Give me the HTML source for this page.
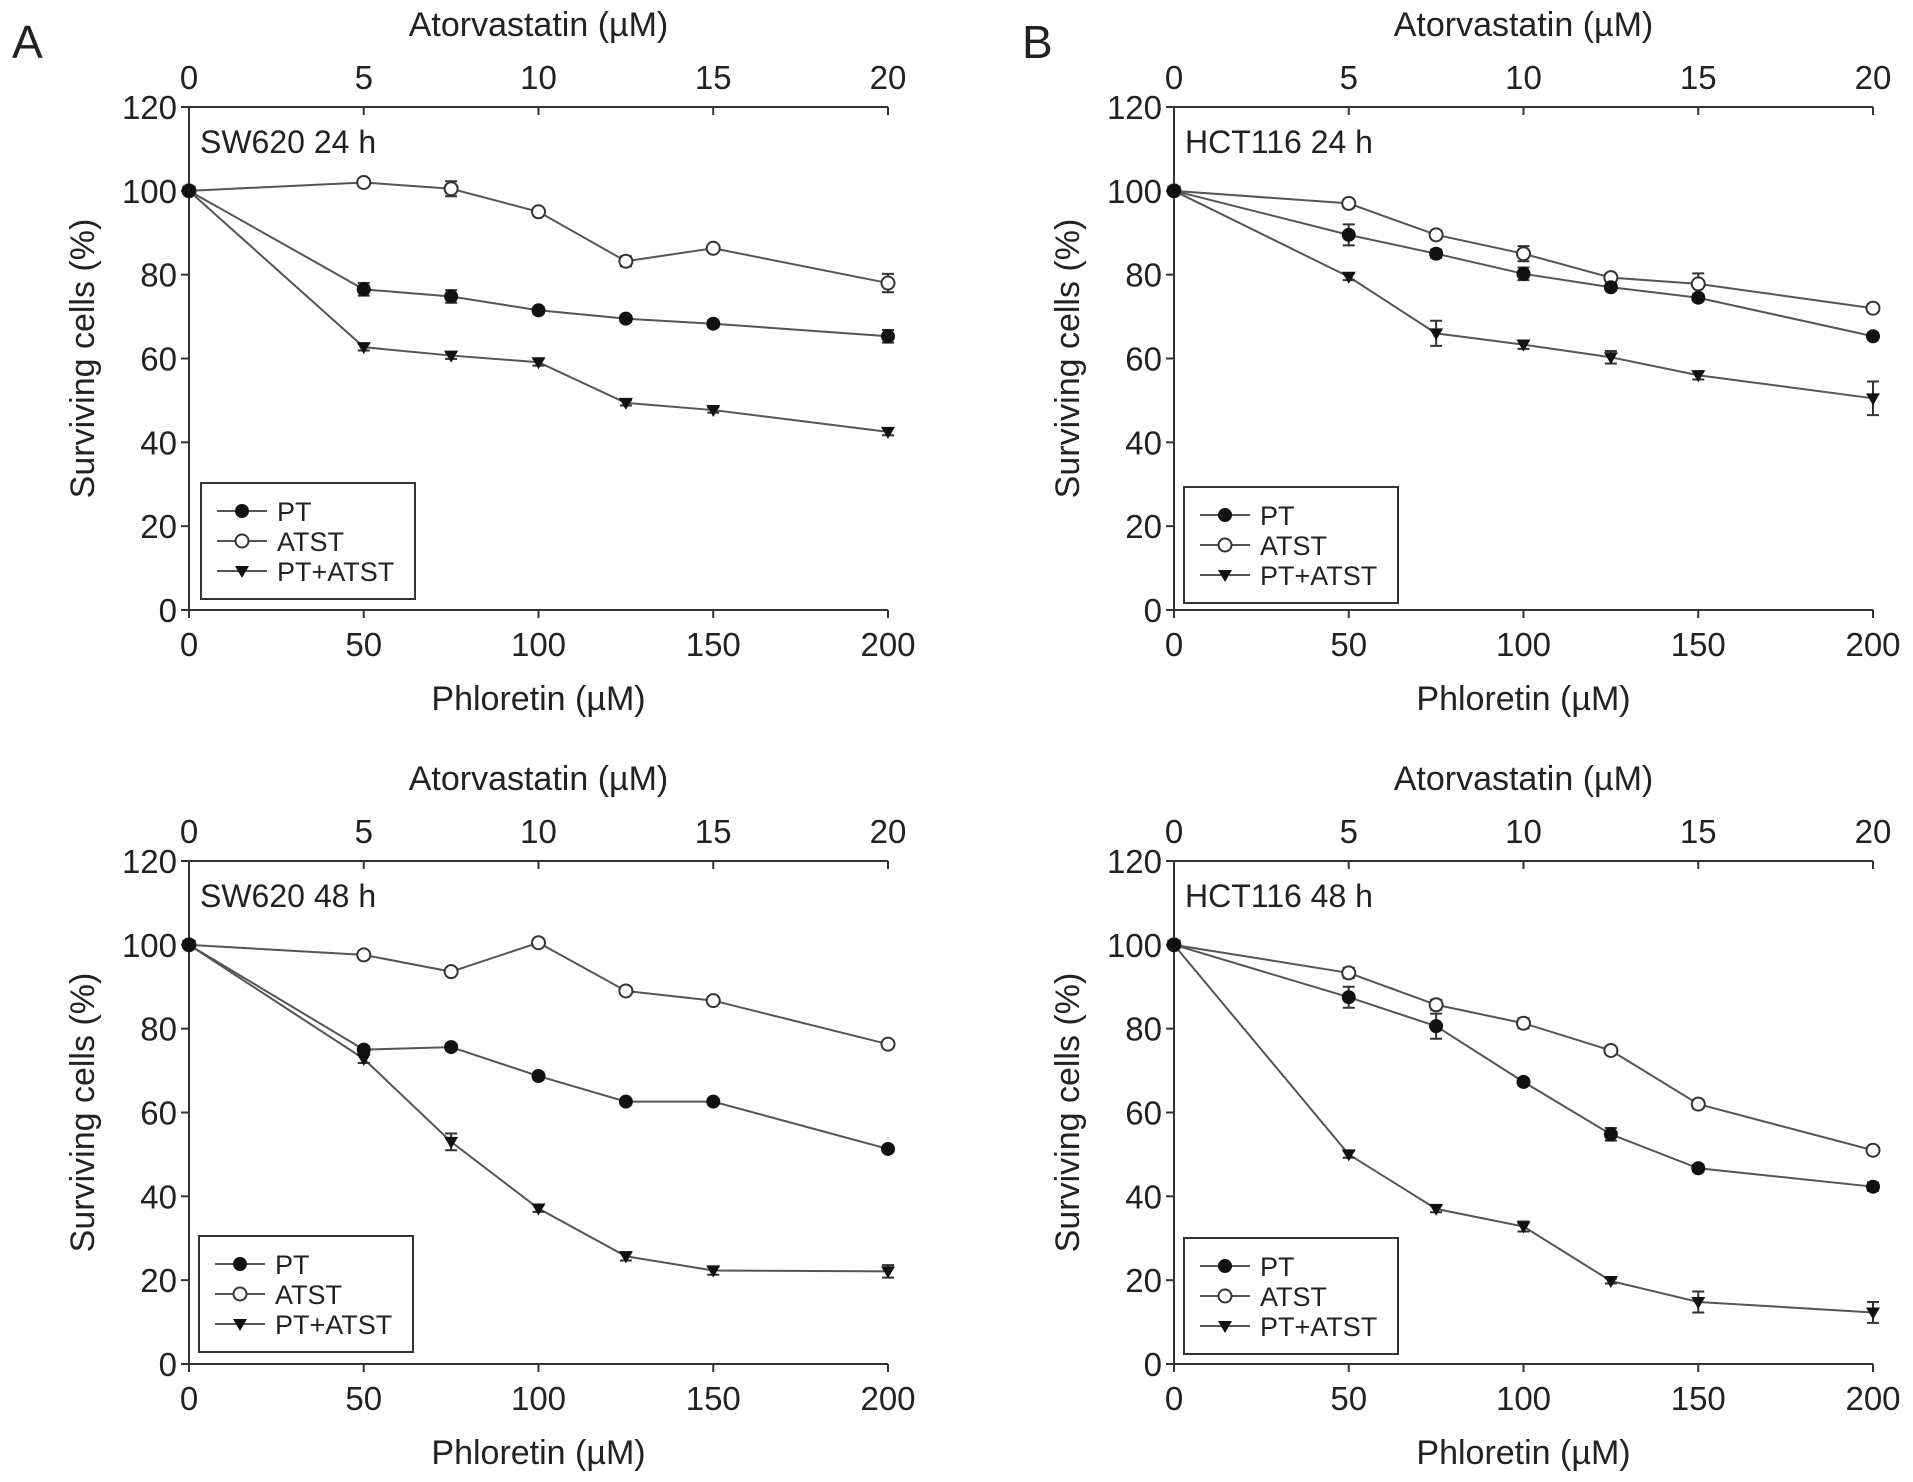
<!DOCTYPE html>
<html><head><meta charset="utf-8"><style>
body{margin:0;background:#fff;}
svg{display:block;font-family:"Liberation Sans",Arial,sans-serif;}
</style></head><body>
<svg id="fig" width="1913" height="1482" viewBox="0 0 1913 1482"></svg>
<script>
const xVals=[0,50,75,100,125,150,200];
const seriesNames=["PT","ATST","PT+ATST"];
const a24PT=[100,76.5,74.8,71.5,69.5,68.3,65.3];
const a24ATST=[100,102,100.5,95,83.2,86.3,78];
const a24Combo=[100,62.7,60.7,59.1,49.4,47.7,42.5];
const a24Err=[[0,1.5,1.5,0.8,0.8,0.8,1.5],[0,0.8,1.8,0.8,1.2,0.8,2.2],[0,0.8,0.8,0.8,0.6,0.6,0.8]];
const a48PT=[100,75,75.6,68.7,62.6,62.6,51.3];
const a48ATST=[100,97.6,93.6,100.5,89,86.7,76.3];
const a48Combo=[100,72.8,53,37.1,25.7,22.3,22.1];
const a48Err=[[0,0.8,0.8,0.8,0.6,0.6,0.6],[0,0.6,0.6,0.8,0.6,0.6,0.6],[0,1,2,0.8,1,1,1.5]];
const b24PT=[100,89.5,85,80.2,77,74.5,65.3];
const b24ATST=[100,97,89.5,85,79.3,77.8,72];
const b24Combo=[100,79.5,66,63.3,60.3,56,50.5];
const b24Err=[[0,2.5,1,1.5,0.8,0.8,0.8],[0,1,1,1.8,0.8,2.5,1],[0,0.8,3,1,1.5,1,4]];
const b48PT=[100,87.5,80.6,67.3,54.8,46.7,42.3];
const b48ATST=[100,93.3,85.7,81.3,74.8,62,51];
const b48Combo=[100,50,37,32.8,19.8,14.8,12.3];
const b48Err=[[0,2.5,3,0.8,1.5,0.8,1],[0,1.2,1.2,1.2,0.8,1,0.8],[0,0.8,0.8,1.2,0.6,2.5,2.5]];
const xTicks=[0,50,100,150,200];
const topTicks=[0,5,10,15,20];
const yTicks=[0,20,40,60,80,100,120];

const NS="http://www.w3.org/2000/svg";
const svg=document.getElementById('fig');
function mk(tag,attrs,parent,text){const e=document.createElementNS(NS,tag);for(const k in attrs)e.setAttribute(k,attrs[k]);if(text!==undefined)e.textContent=text;(parent||svg).appendChild(e);return e;}
const C="#222";
function panel(id,x0,x1,yTop,yBot,label,data,errs,legend){
  const g=mk('g',{});
  
  
  const sx=v=>x0+(x1-x0)*v/200, sy=v=>yBot-(yBot-yTop)*v/120;
  const ax=mk('g',{stroke:'#333','stroke-width':2,fill:'none'},g);
  
  mk('line',{x1:x0,y1:yTop,x2:x0,y2:yBot},ax);
  mk('line',{x1:x0,y1:yBot,x2:x1,y2:yBot},ax);
  mk('line',{x1:x0,y1:yTop,x2:x1,y2:yTop},ax);
  yTicks.forEach(t=>{mk('line',{x1:x0-8,y1:sy(t),x2:x0,y2:sy(t)},ax);
    const tl=mk('text',{x:x0-12,y:sy(t)+12,'text-anchor':'end','font-size':33,fill:C},g,String(t));
    });
  xTicks.forEach((t,i)=>{mk('line',{x1:sx(t),y1:yBot,x2:sx(t),y2:yBot+8},ax);
    mk('line',{x1:sx(t),y1:yTop,x2:sx(t),y2:yTop+8},ax);
    const bl=mk('text',{x:sx(t),y:yBot+46,'text-anchor':'middle','font-size':33,fill:C},g,String(t));
    
    const tl=mk('text',{x:sx(t),y:yTop-18,'text-anchor':'middle','font-size':33,fill:C},g,String(topTicks[i]));
    });
  const xt=mk('text',{x:(x0+x1)/2,y:yBot+100,'text-anchor':'middle','font-size':34,fill:C},g,'Phloretin (µM)');
  
  const tt=mk('text',{x:(x0+x1)/2,y:yTop-71,'text-anchor':'middle','font-size':34,fill:C},g,'Atorvastatin (µM)');
  
  const yl=mk('text',{x:0,y:0,'text-anchor':'middle','font-size':34,fill:C,transform:`translate(${x0-95},${(yTop+yBot)/2}) rotate(-90)`},g,'Surviving cells (%)');
  
  const pl=mk('text',{x:x0+11,y:yTop+46,'font-size':32,fill:C},g,label);
  
  [1,2,0].forEach(si=>{
    const vals=data[si],er=errs[si];
    const sg=mk('g',{},g);
    
    
    mk('polyline',{points:vals.map((v,i)=>sx(xVals[i])+','+sy(v)).join(' '),fill:'none',stroke:'#555','stroke-width':2},sg);
    vals.forEach((v,i)=>{
      const X=sx(xVals[i]),Y=sy(v),e=er[i];
      if(e>0){const d=(yBot-yTop)*e/120;
        mk('path',{d:`M${X},${Y-d}V${Y+d}M${X-6},${Y-d}H${X+6}M${X-6},${Y+d}H${X+6}`,stroke:'#333','stroke-width':2,fill:'none'},sg);}
      marker(sg,si,X,Y);
    });
  });
  const [lx,ly]=legend;
  const lg=mk('g',{},g);
  
  mk('rect',{x:lx,y:ly,width:214,height:116,fill:'#fff',stroke:'#333','stroke-width':2},lg);
  [0,1,2].forEach(si=>{const yy=ly+28+si*30;
    const le=mk('g',{},lg);
    mk('line',{x1:lx+16,y1:yy,x2:lx+66,y2:yy,stroke:'#555','stroke-width':2},le);
    marker(le,si,lx+41,yy);
    mk('text',{x:lx+76,y:yy+10,'font-size':27,fill:C},le,seriesNames[si]);});
}
function marker(p,si,X,Y){
  if(si===0)mk('circle',{cx:X,cy:Y,r:7,fill:'#111'},p);
  else if(si===1)mk('circle',{cx:X,cy:Y,r:6.5,fill:'#fff',stroke:'#333','stroke-width':2},p);
  else mk('path',{d:`M${X-7},${Y-5}L${X+7},${Y-5}L${X},${Y+7}Z`,fill:'#111'},p);
}
panel('panel-sw620-24h',189,888,107,610,'SW620 24 h',[a24PT,a24ATST,a24Combo],a24Err,[201,483]);
panel('panel-sw620-48h',189,888,861,1364,'SW620 48 h',[a48PT,a48ATST,a48Combo],a48Err,[199,1236]);
panel('panel-hct116-24h',1174,1873,107,610,'HCT116 24 h',[b24PT,b24ATST,b24Combo],b24Err,[1184,487]);
panel('panel-hct116-48h',1174,1873,861,1364,'HCT116 48 h',[b48PT,b48ATST,b48Combo],b48Err,[1184,1238]);
const A=mk('text',{x:12,y:58,'font-size':46,fill:'#222'},svg,'A');

const B=mk('text',{x:1022,y:58,'font-size':46,fill:'#222'},svg,'B');

</script>
</body></html>
